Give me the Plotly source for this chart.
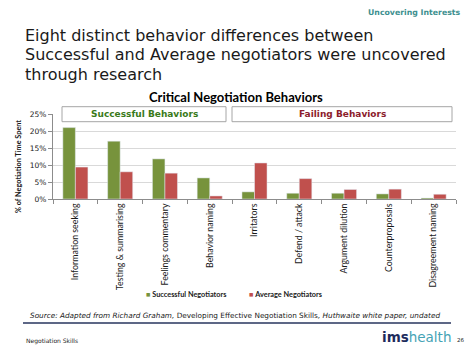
import plotly.graph_objects as go

categories = ["Information seeking", "Testing & summarising", "Feelings commentary",
              "Behavior naming", "Irritators", "Defend / attack", "Argument dilution",
              "Counterproposals", "Disagreement naming"]
successful = [21.0, 17.0, 11.8, 6.2, 2.1, 1.7, 1.7, 1.5, 0.3]
average = [9.4, 8.0, 7.6, 0.9, 10.6, 6.0, 2.8, 2.9, 1.4]
series_names = ["Successful Negotiators", "Average Negotiators"]
y_ticks = [0, 5, 10, 15, 20, 25]
y_tick_labels = ["0%", "5%", "10%", "15%", "20%", "25%"]

GREEN = "#77933c"
RED = "#c0504d"

# page has an 8px body margin: work in page pixels, figure is offset by it
OFF = 8
PAGE_W, PAGE_H = 474, 355
W, H = PAGE_W - OFF, PAGE_H - OFF
L, R, T, B = 53, 456, 114, 199   # plot area in page pixels


def px(x):
    return (x - L) / (R - L)


def py(y):
    return (B - y) / (B - T)


def note(text, x, y, xanchor, size, color, family="DejaVu Sans", angle=0):
    return dict(text=text, x=px(x), y=py(y), xref="paper", yref="paper",
                xanchor=xanchor, yanchor="middle", showarrow=False, textangle=angle,
                font=dict(family=family, size=size, color=color))


fig = go.Figure()
fig.add_trace(go.Bar(x=categories, y=successful, name=series_names[0], marker_color=GREEN))
fig.add_trace(go.Bar(x=categories, y=average, name=series_names[1], marker_color=RED))

ann = []
shapes = []

# slide header
ann.append(note("<b>Uncovering Interests</b>", 463, 13, "right", 7.8, "#3d8f8f"))
title_lines = ["Eight distinct behavior differences between",
               "Successful and Average negotiators were uncovered",
               "through research"]
for i, line in enumerate(title_lines):
    ann.append(note(line, 23, 35 + i * 19.5, "left", 16, "#1a1a1a"))

# chart title
ann.append(note("<b>Critical Negotiation Behaviors</b>", 236, 97, "center", 13, "#000000", "Lato"))

# y-axis title
ann.append(note("<b>% of Negotiation Time Spent</b>", 18, 167, "center", 7.3, "#1a1a1a",
                "Lato", -90))

# group boxes
for x0, x1 in [(62, 226), (232, 452)]:
    shapes.append(dict(type="rect", xref="paper", yref="paper", x0=px(x0), x1=px(x1),
                       y0=py(121.7), y1=py(106.7), line=dict(color="#a6a6a6", width=1),
                       fillcolor="white", layer="above"))
ann.append(note("<b>Successful Behaviors</b>", 144, 114.2, "center", 9, "#3a7a1a"))
ann.append(note("<b>Failing Behaviors</b>", 342, 114.2, "center", 9, "#8c1c2c"))

# legend (drawn as text swatches to keep the tight spacing of the original)
ann.append(note("<span style='color:%s'>■</span> <b>%s</b>" % (GREEN, series_names[0]),
                144, 294, "left", 7.3, "#1a1a1a", "Lato"))
ann.append(note("<span style='color:%s'>■</span> <b>%s</b>" % (RED, series_names[1]),
                247, 294, "left", 7.3, "#1a1a1a", "Lato"))

# source & footer
ann.append(note("<i>Source: Adapted from Richard Graham, </i>Developing Effective Negotiation Skills"
                "<i>, Huthwaite white paper, undated</i>", 235, 315, "center", 7.3, "#1a1a1a"))
shapes.append(dict(type="line", xref="paper", yref="paper", x0=px(23), x1=px(451),
                   y0=py(323), y1=py(323), line=dict(color="#27345e", width=1.5)))
ann.append(note("Negotiation Skills", 24, 341, "left", 6, "#1a1a1a"))
ann.append(note("<b>ims</b><span style='color:#45a3b5'>health</span>", 453, 337, "right", 13.5,
                "#1d2b5c"))
ann.append(note("26", 455, 339.5, "left", 5.5, "#1a1a1a"))

fig.update_layout(
    width=W, height=H,
    margin=dict(l=L - OFF, r=PAGE_W - R, t=T - OFF, b=PAGE_H - B, pad=0),
    paper_bgcolor="white", plot_bgcolor="white",
    barmode="group", bargap=0.44, bargroupgap=0,
    showlegend=False,
    annotations=ann, shapes=shapes,
    font=dict(family="Lato", color="#1a1a1a"),
)
fig.update_xaxes(
    type="category", tickangle=-90, showline=True, linecolor="#8c8c8c", linewidth=1,
    ticks="outside", tickson="boundaries", ticklen=4, tickcolor="#8c8c8c",
    tickfont=dict(family="Lato", size=8.8, color="#1a1a1a"), showgrid=False,
)
fig.update_yaxes(
    range=[0, 25], tickvals=y_ticks, ticktext=y_tick_labels,
    showline=True, linecolor="#8c8c8c", linewidth=1,
    ticks="outside", ticklen=4, tickcolor="#8c8c8c",
    showgrid=True, gridcolor="#d9d9d9", gridwidth=1, zeroline=False,
    tickfont=dict(family="DejaVu Sans", size=7.5, color="#1a1a1a"),
    tickprefix="<b>", ticksuffix="</b>",
)

fig.write_html("out.html")
